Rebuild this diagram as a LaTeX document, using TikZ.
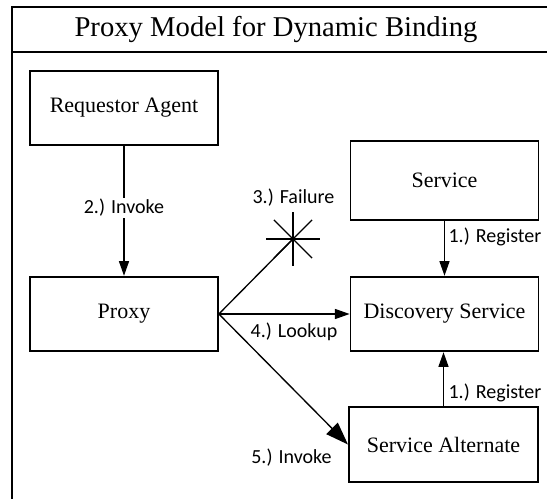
\documentclass[tikz,border=0pt]{standalone}
\usepackage{fontspec}
\setmainfont{Liberation Serif}
\newfontfamily\lblfont{Carlito}
\usetikzlibrary{arrows.meta}
\tikzset{
  box/.style={draw,line width=1.3pt,minimum width=141pt,minimum height=56pt,font=\fontsize{16.5}{19}\selectfont},
  lbl/.style={font=\lblfont\fontsize{15}{17}\selectfont,inner sep=1pt},
  link/.style={line width=1pt,-{Triangle[length=11pt,width=7.5pt]}}
}
\begin{document}
\begin{tikzpicture}[x=0.75pt,y=-0.75pt,line join=miter]
  \useasboundingbox (0,0) rectangle (547,499);
  \draw[line width=1.5pt] (547,7) -- (12,7) -- (12,502) (12,52) -- (547,52);
  \node[font=\fontsize{21.5}{25}\selectfont] (title) at (276,30) {Proxy Model for Dynamic Binding};
  \node[box] (req) at (124,108) {Requestor Agent};
  \node[box] (proxy) at (124,314) {Proxy};
  \node[box,minimum height=59pt] (serv) at (444.5,180.5) {Service};
  \node[box] (disc) at (444.5,314) {Discovery Service};
  \node[box,minimum width=142pt] (alt) at (443.5,444.5) {Service Alternate};
  \coordinate (fail) at (293,239);
  \draw[link] (req) -- (proxy);
  \node[lbl,fill=white] (inv) at (124,208) {2.) Invoke};
  \draw[link] (serv) -- (disc);
  \draw[link] (alt.north -| 443.5,0) -- (disc.south -| 443.5,0);
  \draw[line width=1pt] (proxy.east) -- (fail);
  \foreach \a in {0,45,...,315}{\draw[line width=1pt] (fail) -- ++(\a:27);}
  \draw[link] (proxy.east) -- (disc.west);
  \draw[line width=1pt,-{Triangle[length=17pt,width=12pt]}] (proxy.east) -- (alt.west);
  \node[lbl] (failure) at (293.5,198) {3.) Failure};
  \node[lbl,anchor=west] (reg1) at (447,237) {1.) Register};
  \node[lbl] (look) at (294,332) {4.) Lookup};
  \node[lbl,anchor=west] (reg2) at (447,393) {1.) Register};
  \node[lbl] (inv2) at (291.5,458) {5.) Invoke};
\end{tikzpicture}
\end{document}
